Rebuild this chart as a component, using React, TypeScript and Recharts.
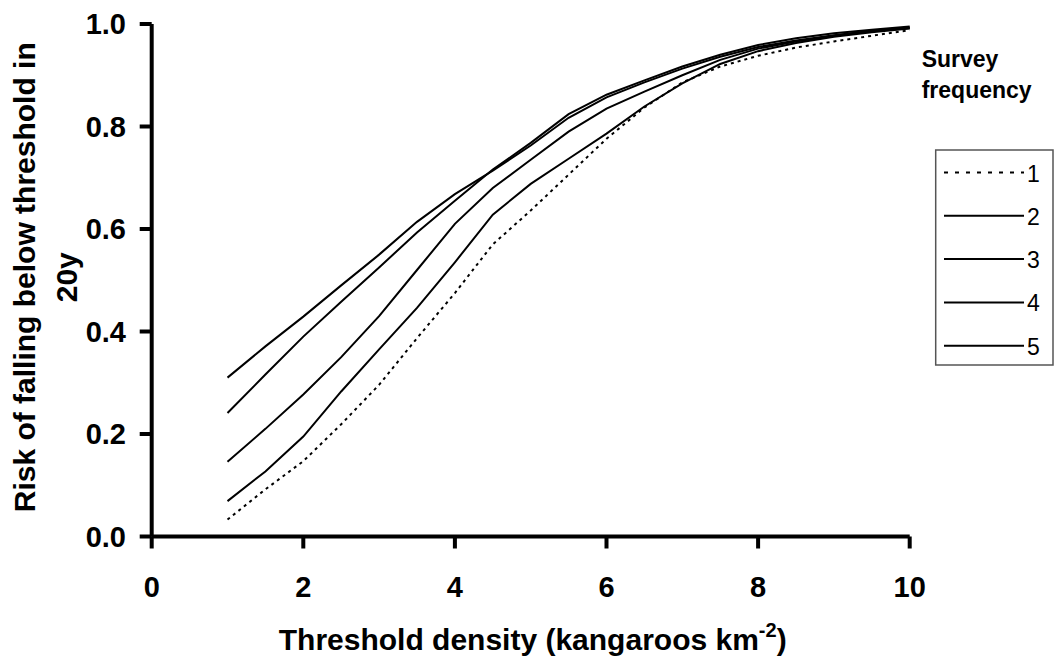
import { LineChart, Line, XAxis, YAxis, Legend, ReferenceLine } from "recharts"

// threshold density (kangaroos km^-2)
const densities = [1, 1.5, 2, 2.5, 3, 3.5, 4, 4.5, 5, 5.5, 6, 6.5, 7, 7.5, 8, 8.5, 9, 9.5, 10]

// risk of falling below threshold in 20y, one array per survey frequency
const freq1 = [0.033, 0.092, 0.147, 0.219, 0.296, 0.387, 0.475, 0.57, 0.636, 0.706, 0.776, 0.837, 0.886, 0.917, 0.938, 0.954, 0.966, 0.977, 0.988]
const freq2 = [0.069, 0.127, 0.195, 0.283, 0.365, 0.446, 0.535, 0.628, 0.688, 0.737, 0.786, 0.839, 0.884, 0.922, 0.947, 0.963, 0.975, 0.984, 0.991]
const freq3 = [0.146, 0.21, 0.277, 0.35, 0.43, 0.52, 0.61, 0.68, 0.735, 0.79, 0.835, 0.868, 0.9, 0.93, 0.952, 0.966, 0.977, 0.986, 0.992]
const freq4 = [0.241, 0.316, 0.39, 0.458, 0.525, 0.593, 0.655, 0.716, 0.768, 0.824, 0.862, 0.89, 0.917, 0.94, 0.959, 0.972, 0.982, 0.989, 0.995]
const freq5 = [0.31, 0.371, 0.429, 0.49, 0.55, 0.614, 0.668, 0.714, 0.763, 0.817, 0.857, 0.886, 0.913, 0.936, 0.955, 0.968, 0.978, 0.987, 0.993]

const seriesNames = ["1", "2", "3", "4", "5"]
const xTicks = [0, 2, 4, 6, 8, 10]
const yTicks = [0, 0.2, 0.4, 0.6, 0.8, 1.0]

const data = densities.map((d, i) => ({
  d,
  f1: freq1[i],
  f2: freq2[i],
  f3: freq3[i],
  f4: freq4[i],
  f5: freq5[i],
}))

const FONT = '"Liberation Sans", Arial, Helvetica, sans-serif'
const TICK = 12

// tick mark + label; props.y / props.x sit at the end of the (hidden) tick line
function XTick(props: any) {
  const { x, y, payload } = props
  const axisY = y - TICK
  return (
    <g>
      <rect x={x - 2} y={axisY} width={4} height={TICK} fill="#000" />
      <text x={x} y={y + 48} textAnchor="middle" fontFamily={FONT} fontWeight="bold" fontSize={29} fill="#000">
        {payload.value}
      </text>
    </g>
  )
}

function YTick(props: any) {
  const { x, y, payload } = props
  return (
    <g>
      <rect x={x} y={y - 2} width={TICK} height={4} fill="#000" />
      <text x={x - 13.7} y={y + 10} textAnchor="end" fontFamily={FONT} fontWeight="bold" fontSize={29} fill="#000">
        {Number(payload.value).toFixed(1)}
      </text>
    </g>
  )
}

function XTitle(props: any) {
  const vb = props.viewBox || { x: 151.7, width: 758 }
  const cx = vb.x + vb.width / 2 + 2
  return (
    <text x={cx} y={650} textAnchor="middle" fontFamily={FONT} fontWeight="bold" fontSize={30} fill="#000">
      Threshold density (kangaroos km
      <tspan fontSize={20} dy={-13}>-2</tspan>
      <tspan fontSize={30} dy={13}>)</tspan>
    </text>
  )
}

function YTitle(props: any) {
  const vb = props.viewBox || { y: 24, height: 512.5 }
  const cy = vb.y + vb.height / 2 - 3
  return (
    <g fontFamily={FONT} fontWeight="bold" fontSize={30} fill="#000">
      <text x={35} y={cy} textAnchor="middle" transform={`rotate(-90, 35, ${cy})`}>
        Risk of falling below threshold in
      </text>
      <text x={77} y={cy} textAnchor="middle" transform={`rotate(-90, 77, ${cy})`}>
        20y
      </text>
    </g>
  )
}

function LegendBox(props: any) {
  const payload = props.payload || []
  return (
    <svg width={154} height={340} style={{ display: "block" }}>
      <g fontFamily={FONT} fill="#000">
        <text x={21.7} y={36.7} fontWeight="bold" fontSize={23}>Survey</text>
        <text x={21.7} y={68.3} fontWeight="bold" fontSize={23}>frequency</text>
      </g>
      <rect x={35.7} y={120} width={117.3} height={215} fill="#fff" stroke="#555" strokeWidth={1.5} />
      {payload.map((entry: any, i: number) => {
        const ly = 142.5 + 43.3 * i
        const dashed = entry.payload && entry.payload.strokeDasharray
        return (
          <g key={entry.value}>
            <line x1={44} x2={124} y1={ly} y2={ly} stroke="#000" strokeWidth={2} strokeDasharray={dashed ? "4 7" : undefined} />
            <text x={127} y={ly + 9} fontFamily={FONT} fontSize={23} fill="#000">
              {entry.value}
            </text>
          </g>
        )
      })}
    </svg>
  )
}

export default function App() {
  return (
    <div style={{ position: "absolute", left: 0, top: 0, background: "#fff" }}>
      <LineChart width={1054} height={661} data={data} margin={{ top: 24, right: 144.3, left: 91.7, bottom: 64.5 }}>
        <XAxis
          dataKey="d"
          type="number"
          domain={[0, 10]}
          ticks={xTicks}
          height={60}
          tickSize={TICK}
          tickMargin={0}
          axisLine={false}
          tickLine={false}
          tick={<XTick />}
          label={<XTitle />}
        />
        <YAxis
          type="number"
          domain={[0, 1]}
          ticks={yTicks}
          width={60}
          tickSize={TICK}
          tickMargin={0}
          axisLine={false}
          tickLine={false}
          tick={<YTick />}
          label={<YTitle />}
        />
        <ReferenceLine x={0} stroke="#000" strokeWidth={4} ifOverflow="visible" />
        <ReferenceLine y={0} stroke="#000" strokeWidth={4} ifOverflow="visible" />
        <Legend
          layout="vertical"
          align="center"
          verticalAlign="middle"
          content={<LegendBox />}
          wrapperStyle={{ position: "absolute", left: 900, top: 30, width: 154, height: 340 }}
        />
        <Line type="linear" dataKey="f1" name={seriesNames[0]} stroke="#000" strokeWidth={2} strokeDasharray="3 4" dot={false} isAnimationActive={false} />
        <Line type="linear" dataKey="f2" name={seriesNames[1]} stroke="#000" strokeWidth={2} dot={false} isAnimationActive={false} />
        <Line type="linear" dataKey="f3" name={seriesNames[2]} stroke="#000" strokeWidth={2} dot={false} isAnimationActive={false} />
        <Line type="linear" dataKey="f4" name={seriesNames[3]} stroke="#000" strokeWidth={2} dot={false} isAnimationActive={false} />
        <Line type="linear" dataKey="f5" name={seriesNames[4]} stroke="#000" strokeWidth={2} dot={false} isAnimationActive={false} />
      </LineChart>
    </div>
  )
}
